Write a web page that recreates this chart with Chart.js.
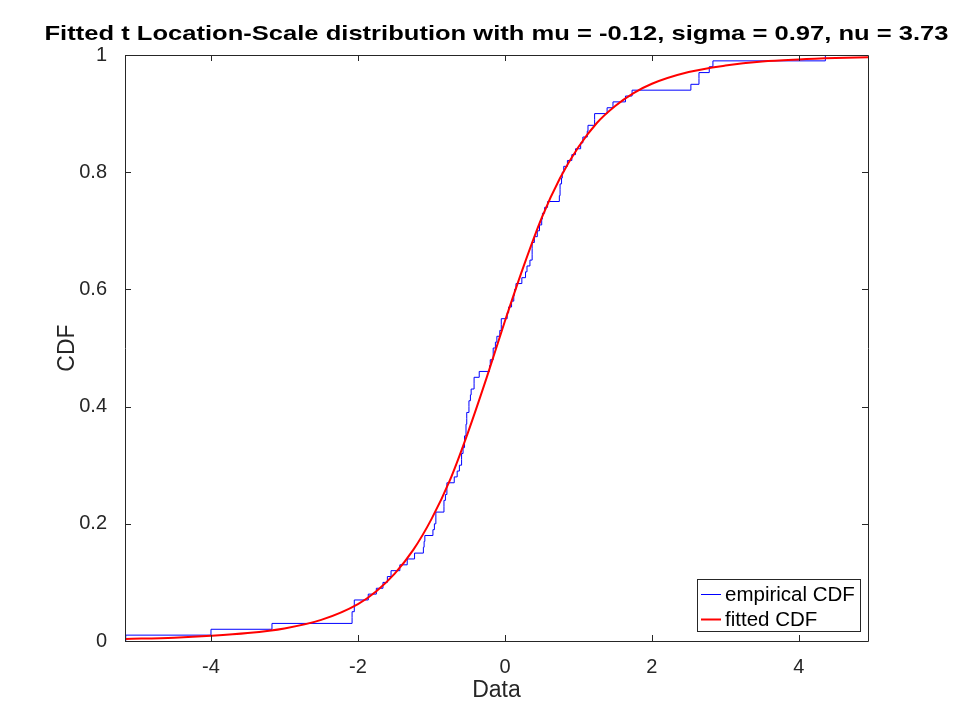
<!DOCTYPE html>
<html>
<head>
<meta charset="utf-8">
<script src="https://cdn.jsdelivr.net/npm/chart.js@4.4.1/dist/chart.umd.min.js"></script>
<style>
  html, body { margin: 0; background: #fff; }
</style>
</head>
<body>
<canvas id="chart" width="960" height="720"></canvas>
<script>
// sorted sample (100 values)
const sortedData = [
  -5.16, -4.00, -3.17, -2.08, -2.08, -2.05, -2.05, -1.86, -1.75, -1.66,
  -1.60, -1.55, -1.43, -1.33, -1.23, -1.11, -1.10, -1.09, -0.98, -0.96,
  -0.94, -0.94, -0.83, -0.83, -0.81, -0.79, -0.79, -0.69, -0.65, -0.62,
  -0.59, -0.59, -0.57, -0.55, -0.55, -0.53, -0.53, -0.52, -0.52, -0.49,
  -0.49, -0.47, -0.46, -0.42, -0.42, -0.35, -0.21, -0.20, -0.16, -0.16,
  -0.13, -0.11, -0.07, -0.05, -0.05, 0.03, 0.05, 0.09, 0.12, 0.13,
  0.15, 0.23, 0.28, 0.30, 0.34, 0.37, 0.37, 0.37, 0.40, 0.44,
  0.47, 0.50, 0.51, 0.54, 0.58, 0.74, 0.75, 0.75, 0.77, 0.78,
  0.80, 0.85, 0.91, 0.96, 1.03, 1.06, 1.12, 1.13, 1.22, 1.22,
  1.39, 1.47, 1.64, 1.73, 2.53, 2.64, 2.64, 2.78, 2.83, 4.36
];

// fitted CDF
const fitX = [-5.17, -4.5, -4, -3.5, -3, -2.5, -2, -1.75, -1.5, -1.25, -1, -0.75, -0.5, -0.25,
  0, 0.25, 0.5, 0.75, 1, 1.25, 1.5, 1.75, 2, 2.5, 3, 3.5, 4, 4.5, 4.94];
const fitCdf = [0.0036, 0.0057, 0.0088, 0.0135, 0.0215, 0.036, 0.063, 0.085, 0.115, 0.155, 0.208, 0.274, 0.357, 0.449,
  0.546, 0.638, 0.722, 0.790, 0.843, 0.884, 0.913, 0.935, 0.951, 0.971, 0.982, 0.989, 0.9925, 0.9948, 0.9962];

const xTicks = [-4, -2, 0, 2, 4];
const yTicks = [0, 0.2, 0.4, 0.6, 0.8, 1];
const xRange = [-5.17, 4.94];
const legendLabels = ['empirical CDF', 'fitted CDF'];
const titleText = 'Fitted t Location-Scale distribution with mu = -0.12, sigma = 0.97, nu = 3.73';

const FONT = '"Liberation Sans", Arial, Helvetica, sans-serif';
const INK = '#262626';

// build the step points
const n = sortedData.length;
const ecdf = [{ x: sortedData[0], y: 0 }];
sortedData.forEach((v, i) => ecdf.push({ x: v, y: (i + 1) / n }));
ecdf.push({ x: xRange[1], y: 1 });

const fitted = fitX.map((x, i) => ({ x: x, y: fitCdf[i] }));

// box, inward ticks, title, axis labels and legend
const decorations = {
  id: 'decorations',
  afterDatasetsDraw(chart) {
    const { ctx, chartArea: a, scales } = chart;
    ctx.save();
    ctx.strokeStyle = INK;
    ctx.lineWidth = 1;
    ctx.beginPath();
    ctx.rect(a.left + 0.5, a.top + 0.5, a.right - a.left, a.bottom - a.top);
    const tl = 6;
    xTicks.forEach(v => {
      const px = Math.round(scales.x.getPixelForValue(v)) + 0.5;
      ctx.moveTo(px, a.bottom); ctx.lineTo(px, a.bottom - tl);
      ctx.moveTo(px, a.top); ctx.lineTo(px, a.top + tl);
    });
    yTicks.forEach(v => {
      const py = Math.round(scales.y.getPixelForValue(v)) + 0.5;
      ctx.moveTo(a.left, py); ctx.lineTo(a.left + tl, py);
      ctx.moveTo(a.right, py); ctx.lineTo(a.right - tl, py);
    });
    ctx.stroke();
    ctx.restore();
  },
  afterDraw(chart) {
    const { ctx, chartArea: a } = chart;
    ctx.save();

    // title, stretched to the reference width
    ctx.fillStyle = '#000';
    ctx.font = 'bold 21px ' + FONT;
    ctx.textAlign = 'center';
    ctx.textBaseline = 'alphabetic';
    const tw = ctx.measureText(titleText).width;
    const sx = 904 / tw;
    ctx.translate((a.left + a.right) / 2, 40);
    ctx.scale(sx, 1);
    ctx.fillText(titleText, 0, 0);
    ctx.setTransform(1, 0, 0, 1, 0, 0);

    // axis labels
    ctx.fillStyle = INK;
    ctx.font = '23px ' + FONT;
    ctx.textBaseline = 'middle';
    ctx.fillText('Data', (a.left + a.right) / 2, 691);
    ctx.translate(68, (a.top + a.bottom) / 2);
    ctx.rotate(-Math.PI / 2);
    ctx.fillText('CDF', 0, 0);
    ctx.setTransform(1, 0, 0, 1, 0, 0);

    // legend
    const lx = a.right - 171, ly = a.bottom - 62, lw = 164, lh = 53;
    ctx.fillStyle = '#fff';
    ctx.fillRect(lx, ly, lw, lh);
    ctx.strokeStyle = INK;
    ctx.lineWidth = 1;
    ctx.strokeRect(lx + 0.5, ly + 0.5, lw - 1, lh - 1);
    const colors = ['#0000ff', '#ff0000'];
    const widths = [1, 2];
    ctx.font = '20.5px ' + FONT;
    ctx.textAlign = 'left';
    legendLabels.forEach((label, i) => {
      const y = ly + 15 + i * 25;
      ctx.strokeStyle = colors[i];
      ctx.lineWidth = widths[i];
      ctx.beginPath();
      ctx.moveTo(lx + 4, y + 0.5);
      ctx.lineTo(lx + 24, y + 0.5);
      ctx.stroke();
      ctx.fillStyle = '#000';
      ctx.fillText(label, lx + 28, y + 1);
    });
    ctx.restore();
  }
};

new Chart(document.getElementById('chart'), {
  type: 'line',
  data: {
    datasets: [
      {
        label: legendLabels[0],
        data: ecdf,
        borderColor: '#0000ff',
        borderWidth: 1,
        stepped: true,
        pointRadius: 0,
        fill: false,
        order: 2
      },
      {
        label: legendLabels[1],
        data: fitted,
        borderColor: '#ff0000',
        borderWidth: 2,
        cubicInterpolationMode: 'monotone',
        pointRadius: 0,
        fill: false,
        order: 1
      }
    ]
  },
  options: {
    responsive: false,
    animation: false,
    devicePixelRatio: 1,
    layout: { padding: { top: 55, right: 92, left: 0, bottom: 0 } },
    plugins: {
      legend: { display: false },
      title: { display: false },
      tooltip: { enabled: false }
    },
    scales: {
      x: {
        type: 'linear',
        min: xRange[0],
        max: xRange[1],
        afterBuildTicks: s => { s.ticks = xTicks.map(v => ({ value: v })); },
        afterFit: s => { s.height = 79; },
        grid: { display: false, drawTicks: false },
        border: { display: false },
        ticks: {
          autoSkip: false,
          maxRotation: 0,
          padding: 14,
          color: INK,
          font: { size: 20, family: FONT },
          callback: v => String(v)
        }
      },
      y: {
        type: 'linear',
        min: 0,
        max: 1,
        afterBuildTicks: s => { s.ticks = yTicks.map(v => ({ value: v })); },
        afterFit: s => { s.width = 125; },
        grid: { display: false, drawTicks: false },
        border: { display: false },
        ticks: {
          autoSkip: false,
          padding: 18,
          color: INK,
          font: { size: 20, family: FONT },
          callback: v => String(v)
        }
      }
    }
  },
  plugins: [decorations]
});
</script>
</body>
</html>
